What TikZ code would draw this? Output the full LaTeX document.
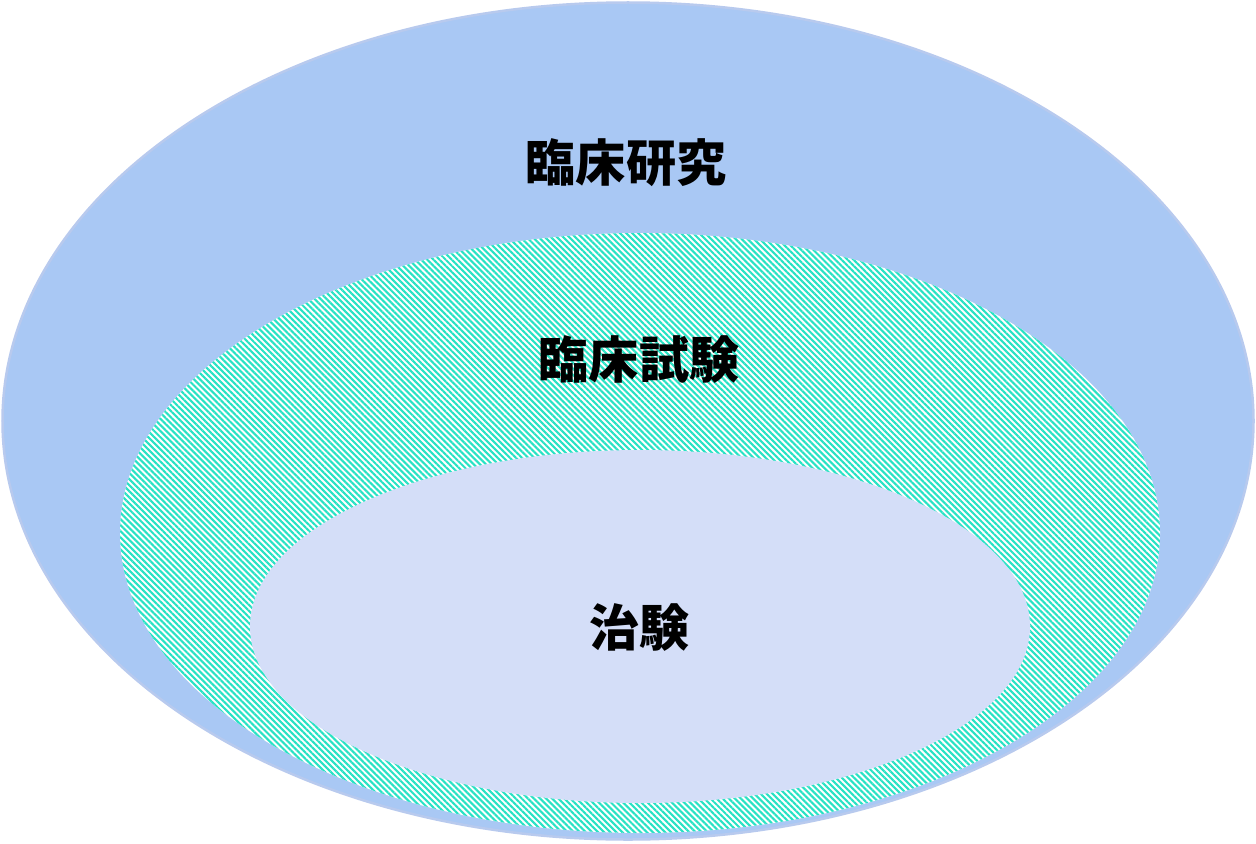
\documentclass[tikz,border=0pt]{standalone}
\usepackage{fontspec}
\usepackage{tikz}
\usetikzlibrary{shapes.geometric,patterns.meta}
\newfontfamily\jpfont{Noto Sans CJK JP}
\definecolor{outerblue}{RGB}{169,200,244}
\definecolor{outerrim}{RGB}{184,202,238}
\definecolor{innerblue}{RGB}{212,222,248}
\definecolor{hatchteal}{RGB}{40,226,196}
\newcommand{\lbl}[1]{{\jpfont\bfseries\fontsize{28.5}{34}\selectfont #1}}

\begin{document}
\begin{tikzpicture}[
  oval/.style={ellipse,inner sep=0pt,outer sep=0pt},
  word/.style={inner sep=0pt}]
\useasboundingbox (0,0) rectangle (25.12,-16.86);
\node[oval,fill=outerblue,draw=outerrim,line width=0.05cm,minimum width=25.02cm,minimum height=16.74cm] (E0) at (12.56,-8.42) {};
\node[oval,preaction={fill=white},pattern={Lines[angle=-45,distance=2.45pt,line width=1.2pt]},pattern color=hatchteal,minimum width=20.8cm,minimum height=12.0cm] (E1) at (12.8,-10.66) {};
\node[oval,fill=innerblue,minimum width=15.6cm,minimum height=7.06cm] (E2) at (12.8,-12.53) {};
\node[word] (T0) at (12.52,-3.26) {\lbl{臨床研究}};
\node[word] (T1) at (12.78,-7.18) {\lbl{臨床試験}};
\node[word] (T2) at (12.79,-12.54) {\lbl{治験}};
\end{tikzpicture}
\end{document}
